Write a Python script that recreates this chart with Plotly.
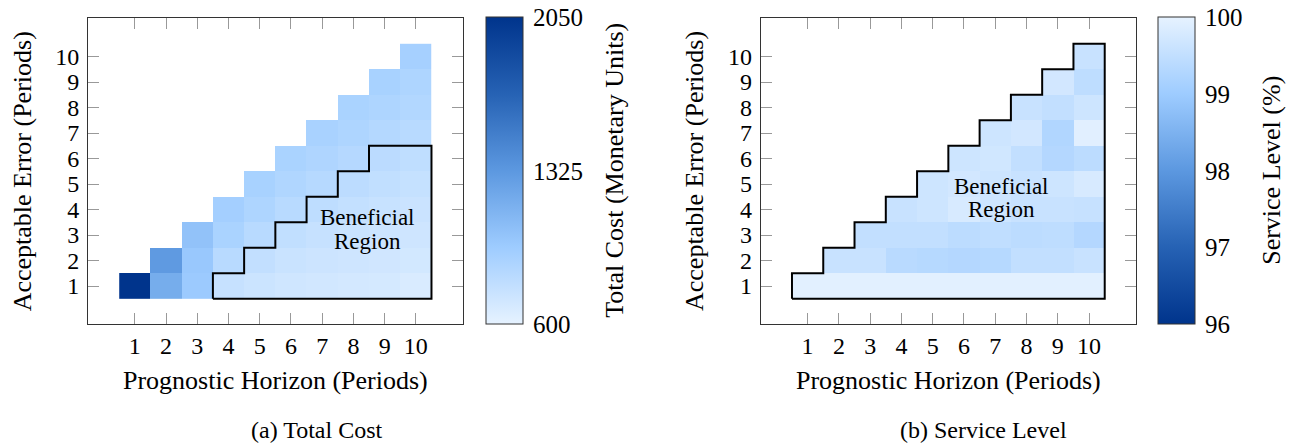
import plotly.graph_objects as go

# ---------------- data ----------------
horizons = [1, 2, 3, 4, 5, 6, 7, 8, 9, 10]
errors = [1, 2, 3, 4, 5, 6, 7, 8, 9, 10]

# total cost per horizon, for acceptable errors 1..h
cost_h1 = [2050]
cost_h2 = [1180, 1310]
cost_h3 = [975, 990, 1030]
cost_h4 = [760, 830, 900, 930]
cost_h5 = [735, 780, 830, 880, 910]
cost_h6 = [715, 745, 785, 830, 870, 900]
cost_h7 = [705, 730, 760, 800, 840, 875, 905]
cost_h8 = [695, 720, 745, 775, 810, 845, 880, 900]
cost_h9 = [690, 710, 730, 755, 785, 815, 850, 880, 910]
cost_h10 = [665, 700, 720, 740, 765, 795, 830, 860, 880, 920]

# service level (%) per horizon, for acceptable errors 1..h
sl_h1 = [99.95]
sl_h2 = [99.95, 99.58]
sl_h3 = [99.95, 99.58, 99.50]
sl_h4 = [99.95, 99.38, 99.50, 99.58]
sl_h5 = [99.95, 99.33, 99.50, 99.65, 99.65]
sl_h6 = [99.95, 99.30, 99.42, 99.79, 99.72, 99.65]
sl_h7 = [99.95, 99.33, 99.47, 99.65, 99.65, 99.70, 99.65]
sl_h8 = [99.95, 99.50, 99.42, 99.58, 99.58, 99.50, 99.72, 99.58]
sl_h9 = [99.95, 99.50, 99.44, 99.58, 99.65, 99.30, 99.27, 99.50, 99.72]
sl_h10 = [99.95, 99.58, 99.30, 99.55, 99.79, 99.42, 99.93, 99.65, 99.44, 99.58]

# largest acceptable error inside the beneficial region, per horizon
benefit_cost = [0, 0, 0, 1, 2, 3, 4, 5, 6, 6]
benefit_sl = [1, 2, 3, 4, 5, 6, 7, 8, 9, 10]

cost_ticks = [600, 1325, 2050]
sl_ticks = [96, 97, 98, 99, 100]

x_title = "Prognostic Horizon (Periods)"
y_title = "Acceptable Error (Periods)"
cost_title = "Total Cost (Monetary Units)"
sl_title = "Service Level (%)"
caption_a = "(a) Total Cost"
caption_b = "(b) Service Level"
region_lines = ["Beneficial", "Region"]

cost_cols = [cost_h1, cost_h2, cost_h3, cost_h4, cost_h5, cost_h6, cost_h7, cost_h8, cost_h9, cost_h10]
sl_cols = [sl_h1, sl_h2, sl_h3, sl_h4, sl_h5, sl_h6, sl_h7, sl_h8, sl_h9, sl_h10]


def to_grid(cols):
    z = [[None] * len(horizons) for _ in errors]
    for hi, col in enumerate(cols):
        for ei, v in enumerate(col):
            z[ei][hi] = v
    return z


def staircase(emax):
    hs = [(h, m) for h, m in zip(horizons, emax) if m > 0]
    xs = [hs[0][0] - 0.5]
    ys = [0.5]
    for h, m in hs:
        xs += [h - 0.5, h + 0.5]
        ys += [m + 0.5, m + 0.5]
    xs += [hs[-1][0] + 0.5, hs[0][0] - 0.5]
    ys += [0.5, 0.5]
    return xs, ys


# ---------------- style ----------------
W, H = 1291, 445
FONT = "'Liberation Serif', 'Times New Roman', Times, serif"
pale_to_dark = [
    [0.0, "rgb(230,242,255)"],
    [0.25, "rgb(158,204,255)"],
    [0.5, "rgb(92,152,224)"],
    [0.75, "rgb(38,98,180)"],
    [1.0, "rgb(0,52,140)"],
]
dark_to_pale = [[1 - s, c] for s, c in reversed(pale_to_dark)]

# pixel layout
frame_top, frame_bot = 18.3, 324.3
left_x0, left_x1 = 88.0, 462.7
right_x0, right_x1 = 760.7, 1136.0
cb_top, cb_bot = 17.3, 324.3
cb1_x0, cb2_x0, cb_w = 486.0, 1158.0, 37.0


def px(v):
    return v / W


def py(v):
    return 1 - v / H


fig = go.Figure()

fig.add_trace(go.Heatmap(
    x=horizons, y=errors, z=to_grid(cost_cols), zmin=cost_ticks[0], zmax=cost_ticks[-1],
    colorscale=pale_to_dark, xaxis="x", yaxis="y", hoverongaps=False,
    colorbar=dict(
        x=px(cb1_x0), xanchor="left", y=py(cb_top), yanchor="top",
        lenmode="pixels", len=cb_bot - cb_top, thickness=cb_w, thicknessmode="pixels",
        xpad=0, ypad=0, outlinecolor="#333", outlinewidth=1,
        tickvals=cost_ticks, ticktext=[str(t) for t in cost_ticks],
        ticks="outside", ticklen=5, tickcolor="rgba(0,0,0,0)",
        tickfont=dict(family=FONT, size=25, color="black"),
    ),
))
fig.add_trace(go.Heatmap(
    x=horizons, y=errors, z=to_grid(sl_cols), zmin=sl_ticks[0], zmax=sl_ticks[-1],
    colorscale=dark_to_pale, xaxis="x2", yaxis="y2", hoverongaps=False,
    colorbar=dict(
        x=px(cb2_x0), xanchor="left", y=py(cb_top), yanchor="top",
        lenmode="pixels", len=cb_bot - cb_top, thickness=cb_w, thicknessmode="pixels",
        xpad=0, ypad=0, outlinecolor="#333", outlinewidth=1,
        tickvals=sl_ticks, ticktext=[str(t) for t in sl_ticks],
        ticks="outside", ticklen=5, tickcolor="rgba(0,0,0,0)",
        tickfont=dict(family=FONT, size=25, color="black"),
    ),
))

for emax, xa, ya in [(benefit_cost, "x", "y"), (benefit_sl, "x2", "y2")]:
    sx, sy = staircase(emax)
    fig.add_trace(go.Scatter(x=sx, y=sy, mode="lines", xaxis=xa, yaxis=ya,
                             line=dict(color="black", width=2), showlegend=False,
                             hoverinfo="skip"))

axis_common = dict(
    range=[-0.5, 11.5], tickvals=horizons, ticktext=[str(v) for v in horizons],
    ticks="inside", ticklen=11, tickcolor="#999", tickwidth=1,
    showline=True, linecolor="#333", linewidth=1, mirror="ticks",
    showgrid=False, zeroline=False, fixedrange=True,
    tickfont=dict(family=FONT, size=24, color="black"),
)

fig.update_layout(
    width=W, height=H, margin=dict(l=0, r=0, t=0, b=0),
    paper_bgcolor="white", plot_bgcolor="white", showlegend=False,
    xaxis=dict(axis_common, domain=[px(left_x0), px(left_x1)], anchor="y", ticklabelstandoff=0),
    yaxis=dict(axis_common, domain=[py(frame_bot), py(frame_top)], anchor="x", ticklabelstandoff=3),
    xaxis2=dict(axis_common, domain=[px(right_x0), px(right_x1)], anchor="y2", ticklabelstandoff=0),
    yaxis2=dict(axis_common, domain=[py(frame_bot), py(frame_top)], anchor="x2", ticklabelstandoff=3),
)

# colorbar tick dashes on both inner edges
shapes = []
for ticks, x0 in [(cost_ticks, cb1_x0), (sl_ticks, cb2_x0)]:
    lo, hi = ticks[0], ticks[-1]
    for t in ticks[1:-1]:
        yy = cb_bot - (t - lo) / (hi - lo) * (cb_bot - cb_top)
        for a, b in [(x0, x0 + 11), (x0 + cb_w - 11, x0 + cb_w)]:
            shapes.append(dict(type="line", xref="paper", yref="paper",
                               x0=px(a), x1=px(b), y0=py(yy), y1=py(yy),
                               line=dict(color="#999", width=1)))
fig.update_layout(shapes=shapes)

ann = []
tfont = dict(family=FONT, size=26, color="black")
for x0, x1 in [(left_x0, left_x1), (right_x0, right_x1)]:
    ann.append(dict(text=x_title, x=px((x0 + x1) / 2), y=py(380), xref="paper", yref="paper",
                    showarrow=False, font=tfont, xanchor="center", yanchor="middle"))
    ann.append(dict(text=y_title, x=px(x0 - 66), y=py((frame_top + frame_bot) / 2),
                    xref="paper", yref="paper", showarrow=False, font=tfont,
                    textangle=-90, xanchor="center", yanchor="middle"))
ann.append(dict(text=cost_title, x=px(615), y=py((cb_top + cb_bot) / 2), xref="paper", yref="paper",
                showarrow=False, font=tfont, textangle=-90, xanchor="center", yanchor="middle"))
ann.append(dict(text=sl_title, x=px(1272), y=py((cb_top + cb_bot) / 2), xref="paper", yref="paper",
                showarrow=False, font=tfont, textangle=-90, xanchor="center", yanchor="middle"))
cfont = dict(family=FONT, size=24, color="black")
ann.append(dict(text=caption_a, x=px(317), y=py(430), xref="paper", yref="paper",
                showarrow=False, font=cfont, xanchor="center", yanchor="middle"))
ann.append(dict(text=caption_b, x=px(983), y=py(430), xref="paper", yref="paper",
                showarrow=False, font=cfont, xanchor="center", yanchor="middle"))
rfont = dict(family=FONT, size=23, color="black")
for (xa, ya, cx, ys) in [("x", "y", 8.44, [3.67, 2.73]), ("x2", "y2", 7.2, [4.92, 4.02])]:
    for line, yy in zip(region_lines, ys):
        ann.append(dict(text=line, x=cx, y=yy, xref=xa, yref=ya, showarrow=False,
                        font=rfont, xanchor="center", yanchor="middle"))
fig.update_layout(annotations=ann)

fig.write_html(
    "out.html",
    config={"displayModeBar": False},
    post_script="document.body.style.margin='0';document.body.style.overflow='hidden';",
)
